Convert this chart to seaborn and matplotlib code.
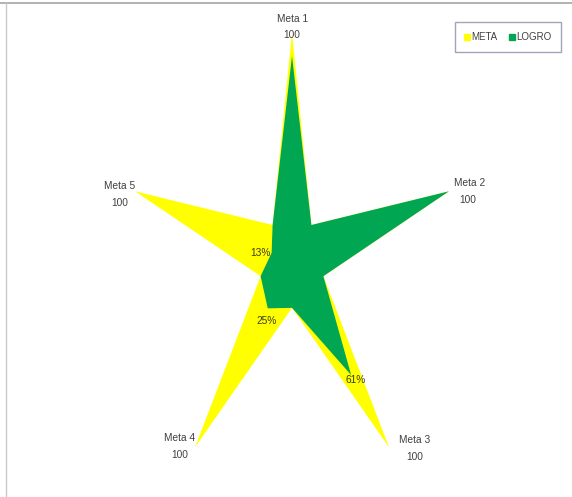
import numpy as np
import pandas as pd
import matplotlib
matplotlib.use("Agg")
import matplotlib.pyplot as plt
from matplotlib.lines import Line2D
import seaborn as sns

# Radar categories: each goal ("Meta") is followed by an unnamed inner spoke
categories = ["Meta 1", "", "Meta 2", "", "Meta 3", "", "Meta 4", "", "Meta 5", ""]
meta = [100, 20, 100, 20, 100, 20, 100, 20, 100, 20]
logro = [90, 20, 100, 20, 61, 20, 25, 20, 13, 20]
series_names = ["META", "LOGRO"]
series_colors = ["#FFFF00", "#00A651"]

sns.set_theme(style="white")
plt.rcParams["font.family"] = ["Liberation Sans Narrow", "Liberation Sans", "DejaVu Sans"]

n = len(categories)
theta = np.linspace(0, 2 * np.pi, n, endpoint=False)
df = pd.DataFrame({
    "theta": np.concatenate([theta, theta]),
    "value": meta + logro,
    "series": [series_names[0]] * n + [series_names[1]] * n,
})

fig = plt.figure(figsize=(5.72, 4.97), dpi=100)
ax = fig.add_axes([0.222, 0.012, 0.577, 0.9215], projection="polar")
ax.set_aspect("auto")
ax.set_theta_zero_location("N")
ax.set_theta_direction(-1)
ax.set_ylim(0, 100)
ax.grid(False)
ax.set_xticks([])
ax.set_yticks([])
ax.spines["polar"].set_visible(False)
ax.patch.set_alpha(0)

for name, color in zip(series_names, series_colors):
    sub = df[df["series"] == name]
    t = np.append(sub["theta"].values, sub["theta"].values[0])
    v = np.append(sub["value"].values, sub["value"].values[0])
    ax.fill(t, v, color=color, lw=0, zorder=2)

text_kw = dict(fontsize=7.3, color="#404040", ha="center", va="center",
               textcoords="offset pixels", zorder=5)

# Category names and META values beside each outer tip
name_offsets = {0: (1, 14), 2: (21, 8), 4: (26, 7), 6: (-15, 9), 8: (-15, 5)}
value_offsets = {0: (0, -2), 2: (19, -9), 4: (26, -10), 6: (-15, -8), 8: (-15, -12)}
for i, (dx, dy) in name_offsets.items():
    ax.annotate(categories[i], (theta[i], meta[i]), xytext=(dx, dy), **text_kw)
    vx, vy = value_offsets[i]
    ax.annotate(f"{meta[i]}", (theta[i], meta[i]), xytext=(vx, vy), **text_kw)

# Achievement labels for the goals that fall short
pct_offsets = {4: (4, -5), 6: (-1, -13), 8: (-11, 0)}
for i, (dx, dy) in pct_offsets.items():
    ax.annotate(f"{logro[i]}%", (theta[i], logro[i]), xytext=(dx, dy),
                **{**text_kw, "color": "#3A3A1A"})

handles = [Line2D([], [], marker="s", ls="", markersize=5, markerfacecolor=c,
                  markeredgecolor=c, label=l) for l, c in zip(series_names, series_colors)]
leg = fig.legend(handles=handles, loc="center", bbox_to_anchor=(508 / 572, 1 - 37 / 497),
                 ncol=2, fontsize=7, frameon=True, fancybox=False, handlelength=0.5,
                 handletextpad=0.15, columnspacing=1.3, borderpad=1.0)
leg.get_frame().set_edgecolor("#8C8CAA")
leg.get_frame().set_linewidth(1.0)
for t in leg.get_texts():
    t.set_color("#404040")

# Thin frame lines along the top and left edges
fig.add_artist(Line2D([0, 1], [1 - 3 / 497, 1 - 3 / 497], color="#A6A6A6", lw=1.2,
                      transform=fig.transFigure))
fig.add_artist(Line2D([6 / 572, 6 / 572], [0, 1 - 3 / 497], color="#C8C8C8", lw=1.0,
                      transform=fig.transFigure))

fig.savefig("out.png", dpi=100)
